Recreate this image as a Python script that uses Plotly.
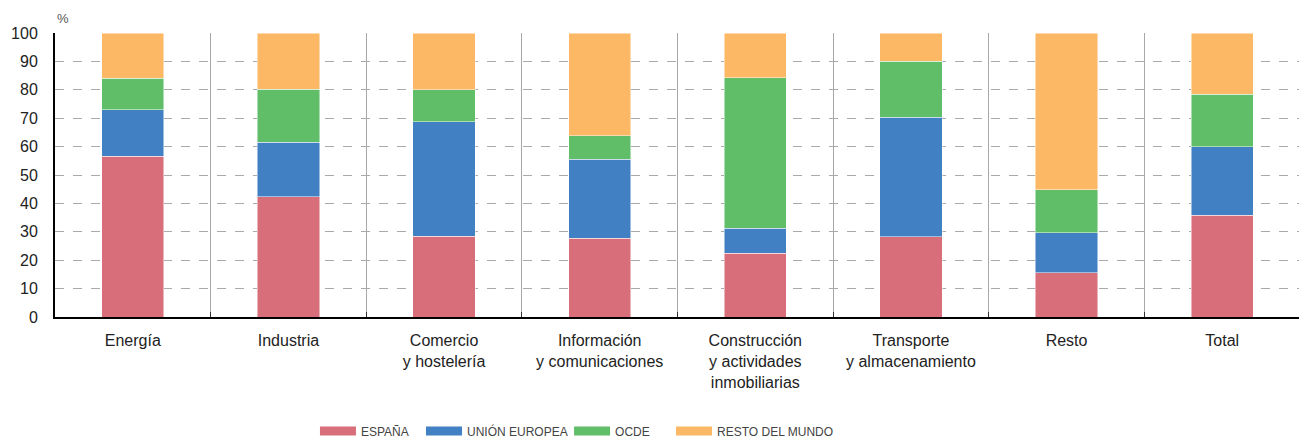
import plotly.graph_objects as go

categories = ["Energía", "Industria", "Comercio<br>y hostelería", "Información<br>y comunicaciones",
              "Construcción<br>y actividades<br>inmobiliarias", "Transporte<br>y almacenamiento",
              "Resto", "Total"]
espana = [56.6, 42.3, 28.4, 27.7, 22.4, 28.2, 15.5, 35.8]
union_europea = [16.4, 19.3, 40.4, 27.8, 8.8, 42.1, 14.2, 24.1]
ocde = [11.0, 18.6, 11.2, 8.3, 53.1, 19.8, 15.1, 18.5]
resto_mundo = [16.0, 19.8, 20.0, 36.2, 15.7, 9.9, 55.2, 21.6]

series_names = ["ESPAÑA", "UNIÓN EUROPEA", "OCDE", "RESTO DEL MUNDO"]
series_values = [espana, union_europea, ocde, resto_mundo]
colors = ["#D96E7B", "#4180C3", "#60BE69", "#FCB864"]
legend_x = [0.2088, 0.294, 0.4129, 0.4948]

fig = go.Figure()
for name, vals, c in zip(series_names, series_values, colors):
    fig.add_trace(go.Bar(x=categories, y=vals, name=name, marker_color=c,
                         marker_line_color="rgba(255,255,255,0.6)", marker_line_width=0.8,
                         showlegend=False, hoverinfo="y+name"))

legend_layout = {}
for i, (name, c, lx) in enumerate(zip(series_names, colors, legend_x)):
    lid = "legend" if i == 0 else f"legend{i + 1}"
    fig.add_trace(go.Scatter(x=[None], y=[None], mode="lines", name=name,
                             line=dict(color=c, width=9), showlegend=True, legend=lid))
    legend_layout[lid] = dict(orientation="h", x=lx, xanchor="left", y=-0.401, yanchor="middle",
                              bgcolor="rgba(0,0,0,0)", borderwidth=0, itemwidth=36,
                              font=dict(family="Liberation Sans, Arial, sans-serif",
                                        size=12, color="#444"))

fig.update_layout(
    width=1299, height=433,
    barmode="stack", bargap=0.6,
    margin=dict(l=47, r=7, t=25, b=124, autoexpand=False),
    plot_bgcolor="white", paper_bgcolor="white",
    font=dict(family="Liberation Sans, Arial, sans-serif", color="#222", size=16),
    annotations=[dict(text="%", xref="paper", yref="paper", x=0.0, y=1.0, xshift=0, yshift=5,
                      xanchor="left", yanchor="bottom", showarrow=False,
                      font=dict(size=13, color="#555"))],
    **legend_layout,
)
fig.update_xaxes(type="category", tickson="boundaries", showgrid=True, gridcolor="#a8a8a8",
                 gridwidth=1, ticks="inside", ticklen=5, tickcolor="#333",
                 showline=True, linecolor="#000", linewidth=2,
                 ticklabelstandoff=8,
                 tickfont=dict(size=16, color="#222"))
fig.update_yaxes(range=[0, 100], dtick=10, showgrid=True, gridcolor="#aaaaaa", griddash="dash",
                 gridwidth=1, showline=True, linecolor="#000", linewidth=2, zeroline=False,
                 ticks="outside", ticklen=0, ticklabelstandoff=12,
                 tickfont=dict(size=16, color="#222"))

fig.write_html("out.html")
